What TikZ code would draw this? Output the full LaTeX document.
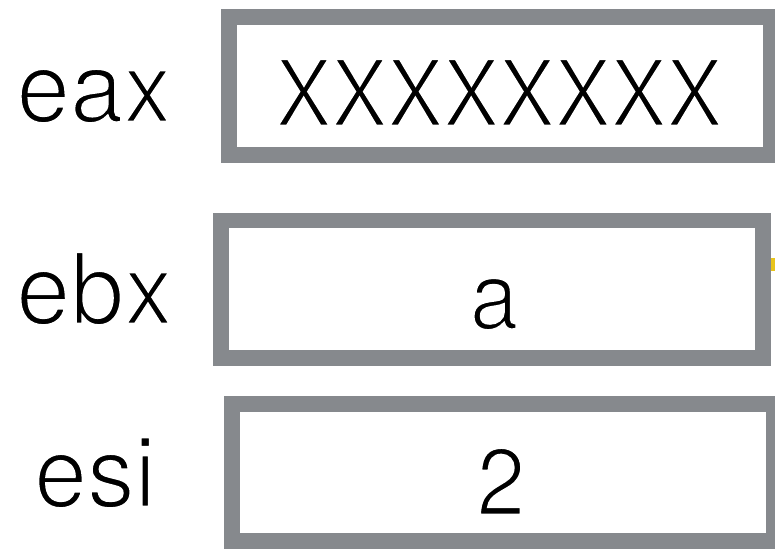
\documentclass[tikz,border=0pt]{standalone}
\usepackage{fontspec}
\setmainfont{TeX Gyre Heros}
\definecolor{regGray}{RGB}{134,137,141}
\definecolor{markYellow}{RGB}{232,196,28}
\newcommand\thintext[1]{\special{pdf:literal direct 2 Tr 2.6 w 1 1 1 RG}#1\special{pdf:literal direct 0 Tr 0 0 0 RG}}
\tikzset{
  regbox/.style={draw=regGray, fill=white, line width=16pt, rectangle, inner sep=0pt, outer sep=0pt},
  reglabel/.style={anchor=base, inner sep=0pt, font=\fontsize{99}{99}\selectfont},
  regvalue/.style={anchor=base, inner sep=0pt, font=\fontsize{95}{95}\selectfont},
}
\begin{document}
\begin{tikzpicture}[x=1pt, y=-1pt]
\useasboundingbox (0,0) rectangle (775,548);
\clip (0,0) rectangle (775,548);
% register boxes (midline of the thick border)
\node[regbox, minimum width=542pt, minimum height=138pt] (boxA) at (500,86) {};
\node[regbox, minimum width=542pt, minimum height=137.5pt, line width=15.5pt] (boxB) at (492,289.25) {};
\node[regbox, minimum width=542pt, minimum height=137pt] (boxC) at (503,472.5) {};
% small yellow mark at right of ebx box
\fill[markYellow] (771,258) rectangle (775,271);
% labels
\node[reglabel] (labA) at (94,122) {\scalebox{0.97}[1]{\thintext{eax}}};
\node[reglabel] (labB) at (94.5,324) {\scalebox{0.98}[1]{\thintext{ebx}}};
\node[reglabel] (labC) at (95,507) {\scalebox{0.96}[1]{\thintext{esi}}};
% values
\node[regvalue, font=\fontsize{92}{92}\selectfont] (valA) at (499,126) {\scalebox{0.91}[1]{\thintext{XXXXXXXX}}};
\node[regvalue] (valB) at (494,329) {\scalebox{0.92}[1]{\thintext{a}}};
\node[regvalue] (valC) at (501,515) {\scalebox{0.92}[1]{\thintext{2}}};
\end{tikzpicture}
\end{document}
